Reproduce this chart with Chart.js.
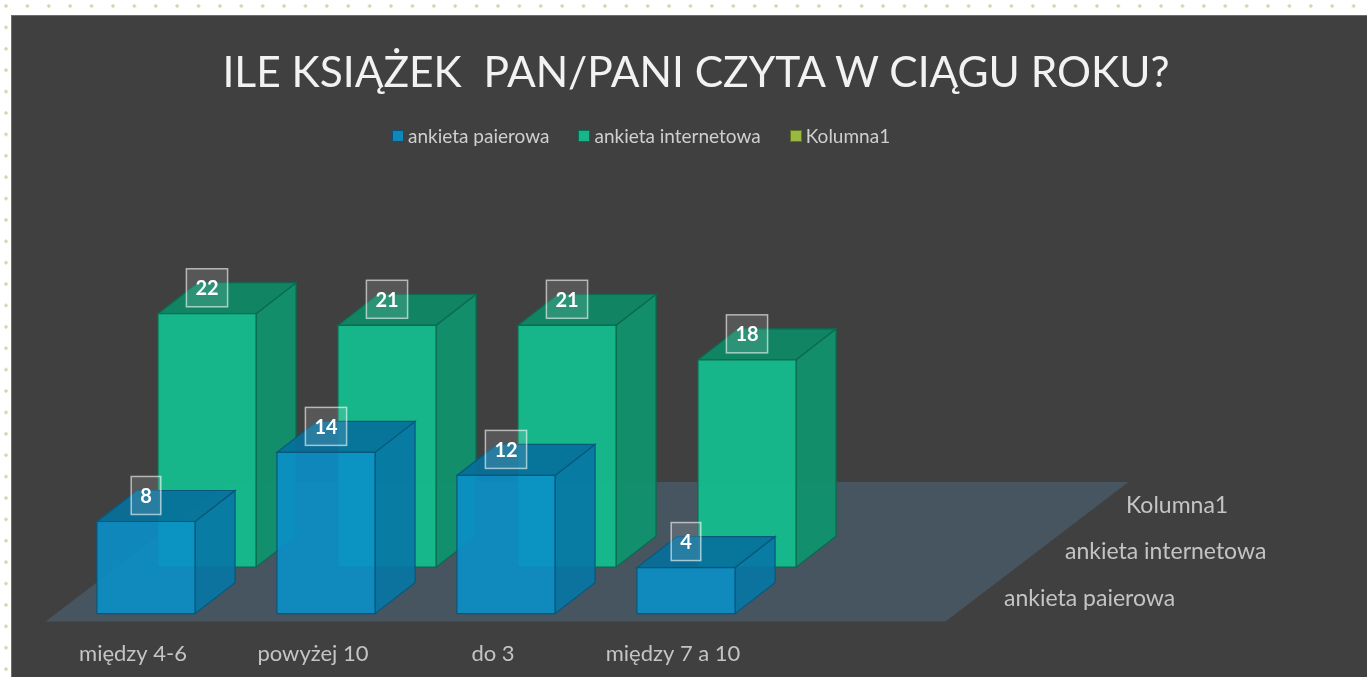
<!DOCTYPE html>
<html lang="pl">
<head>
<meta charset="utf-8">
<title>Ile książek pan/pani czyta w ciągu roku?</title>
<script src="https://cdn.jsdelivr.net/npm/chart.js@4.4.1/dist/chart.umd.min.js"></script>
<style>
html, body { margin: 0; padding: 0; }
body {
    width: 1367px; height: 677px; overflow: hidden; position: relative;
    background-color: #fff;
    background-image: radial-gradient(circle, #c6dea6 1.4px, rgba(255,255,255,0) 1.9px);
    background-size: 21.4px 21.4px;
    background-position: -4.7px -4.7px;
    font-family: Lato, "Open Sans", sans-serif;
}
#panel {
    position: absolute; left: 11px; top: 15px; width: 1356px; height: 681px;
    box-sizing: border-box;
    background: #404040;
    border-left: 1px solid #6e6e6e; border-top: 1px solid #6e6e6e;
}
#panel canvas { display: block; }
#title {
    position: absolute; left: 0; width: 1392px; top: 43px;
    text-align: center; color: #f2f2f2; font-size: 42.5px; line-height: 56px;
    white-space: pre;
}
#legend {
    position: absolute; left: 392px; top: 124px;
    display: flex; align-items: center; color: #cfcfcf; font-size: 19px; line-height: 24px;
}
#legend .item { display: flex; align-items: center; margin-right: 29px; }
#legend .box { width: 10px; height: 10px; border: 1.5px solid; margin-right: 4px; }
</style>
</head>
<body>
<div id="panel"><canvas id="chart" width="1355" height="680"></canvas></div>
<div id="title">ILE KSIĄŻEK  PAN/PANI CZYTA W CIĄGU ROKU?</div>
<div id="legend"></div>
<script>
const categories = ['między 4-6', 'powyżej 10', 'do 3', 'między 7 a 10'];
const seriesNames = ['ankieta paierowa', 'ankieta internetowa', 'Kolumna1'];
const ankietaPapierowa = [8, 14, 12, 4];
const ankietaInternetowa = [22, 21, 21, 18];
const kolumna1 = [null, null, null, null];

// oblique projection: one series row back, and the depth of one bar
const ROW_DX = 61, ROW_DY = -46.5;
const BAR_DX = 40, BAR_DY = -31;
const FLOOR_GAP = 8;

function drawCuboid(ctx, x0, x1, yTop, yBase, ds) {
    ctx.lineWidth = 1.2;
    ctx.strokeStyle = ds.borderColor;

    // side face
    ctx.beginPath();
    ctx.moveTo(x1, yTop);
    ctx.lineTo(x1 + BAR_DX, yTop + BAR_DY);
    ctx.lineTo(x1 + BAR_DX, yBase + BAR_DY);
    ctx.lineTo(x1, yBase);
    ctx.closePath();
    ctx.fillStyle = ds.sideColor;
    ctx.fill();
    ctx.stroke();

    // top face
    ctx.beginPath();
    ctx.moveTo(x0, yTop);
    ctx.lineTo(x1, yTop);
    ctx.lineTo(x1 + BAR_DX, yTop + BAR_DY);
    ctx.lineTo(x0 + BAR_DX, yTop + BAR_DY);
    ctx.closePath();
    ctx.fillStyle = ds.topColor;
    ctx.fill();
    ctx.stroke();

    // front face
    ctx.beginPath();
    ctx.rect(x0, yTop, x1 - x0, yBase - yTop);
    ctx.fillStyle = ds.backgroundColor;
    ctx.fill();
    ctx.stroke();
}

const cuboidPlugin = {
    id: 'cuboids',
    beforeDatasetsDraw(chart) {
        const {ctx, scales: {x, y}} = chart;
        const rows = chart.data.datasets.length;
        const slot = x.width / categories.length;
        const gapDx = FLOOR_GAP * ROW_DX / -ROW_DY;
        const fy = y.getPixelForValue(0) + FLOOR_GAP;
        const fl = x.left - gapDx;
        const fr = x.right + slot - gapDx;

        ctx.save();
        ctx.fillStyle = '#46555f';
        ctx.beginPath();
        ctx.moveTo(fl, fy);
        ctx.lineTo(fr, fy);
        ctx.lineTo(fr + rows * ROW_DX, fy + rows * ROW_DY);
        ctx.lineTo(fl + rows * ROW_DX, fy + rows * ROW_DY);
        ctx.closePath();
        ctx.fill();

        // series (depth) axis labels
        ctx.fillStyle = '#c4c4c4';
        ctx.font = '23px Lato, sans-serif';
        ctx.textAlign = 'left';
        ctx.textBaseline = 'middle';
        chart.data.datasets.forEach((ds, r) => {
            ctx.fillText(ds.label, fr + (r + 0.5) * ROW_DX + 28, fy + (r + 0.5) * ROW_DY);
        });
        ctx.restore();
    },
    beforeDatasetDraw() {
        return false;
    },
    afterDatasetsDraw(chart) {
        const ctx = chart.ctx;
        const sets = chart.data.datasets;
        ctx.save();
        for (let r = sets.length - 1; r >= 0; r--) {
            const meta = chart.getDatasetMeta(r);
            meta.data.forEach((bar, i) => {
                if (sets[r].data[i] == null) return;
                const half = bar.width / 2;
                drawCuboid(ctx,
                    bar.x - half + r * ROW_DX, bar.x + half + r * ROW_DX,
                    bar.y + r * ROW_DY, bar.base + r * ROW_DY, sets[r]);
            });
        }

        // value labels
        ctx.font = 'bold 20px Lato, sans-serif';
        ctx.textAlign = 'center';
        ctx.textBaseline = 'middle';
        for (let r = sets.length - 1; r >= 0; r--) {
            const meta = chart.getDatasetMeta(r);
            meta.data.forEach((bar, i) => {
                const v = sets[r].data[i];
                if (v == null) return;
                const cx = bar.x + r * ROW_DX;
                const cy = bar.y + r * ROW_DY - 26;
                const w = Math.max(29, ctx.measureText(String(v)).width + 18);
                const h = 38;
                ctx.fillStyle = 'rgba(255, 255, 255, 0.12)';
                ctx.fillRect(cx - w / 2, cy - h / 2, w, h);
                ctx.strokeStyle = 'rgba(255, 255, 255, 0.6)';
                ctx.lineWidth = 1.5;
                ctx.strokeRect(cx - w / 2, cy - h / 2, w, h);
                ctx.fillStyle = '#ffffff';
                ctx.fillText(String(v), cx, cy + 1);
            });
        }
        ctx.restore();
    }
};

const chart = new Chart(document.getElementById('chart'), {
    type: 'bar',
    data: {
        labels: categories,
        datasets: [
            {
                label: seriesNames[0],
                data: ankietaPapierowa,
                backgroundColor: 'rgba(10, 143, 200, 0.9)',
                topColor: 'rgba(7, 112, 155, 0.92)',
                sideColor: 'rgba(8, 118, 165, 0.92)',
                borderColor: '#08587c',
                legendBorder: '#0a5273'
            },
            {
                label: seriesNames[1],
                data: ankietaInternetowa,
                backgroundColor: 'rgba(21, 189, 142, 0.95)',
                topColor: 'rgba(14, 136, 101, 0.95)',
                sideColor: 'rgba(16, 146, 110, 0.95)',
                borderColor: '#0b6a4f',
                legendBorder: '#0c6b50'
            },
            {
                label: seriesNames[2],
                data: kolumna1,
                backgroundColor: '#9bb93f',
                topColor: '#7d9830',
                sideColor: '#86a334',
                borderColor: '#5c7424',
                legendBorder: '#5c7424'
            }
        ]
    },
    options: {
        responsive: false,
        animation: false,
        layout: { padding: { left: 44, right: 591, top: 137, bottom: 10 } },
        datasets: { bar: { grouped: false, categoryPercentage: 0.545, barPercentage: 1 } },
        plugins: {
            legend: { display: false },
            title: { display: false },
            tooltip: { enabled: false }
        },
        scales: {
            x: {
                grid: { display: false },
                border: { display: false },
                ticks: {
                    color: '#c4c4c4',
                    font: { family: 'Lato, sans-serif', size: 22 },
                    padding: 19,
                    labelOffset: -13,
                    maxRotation: 0,
                    autoSkip: false
                }
            },
            y: { display: false, min: 0, max: 40 }
        }
    },
    plugins: [cuboidPlugin]
});

// legend built from the chart's datasets
const legendEl = document.getElementById('legend');
chart.data.datasets.forEach(ds => {
    const item = document.createElement('div');
    item.className = 'item';
    const box = document.createElement('span');
    box.className = 'box';
    box.style.background = ds.backgroundColor;
    box.style.borderColor = ds.legendBorder;
    const text = document.createElement('span');
    text.textContent = ds.label;
    item.appendChild(box);
    item.appendChild(text);
    legendEl.appendChild(item);
});
</script>
</body>
</html>
